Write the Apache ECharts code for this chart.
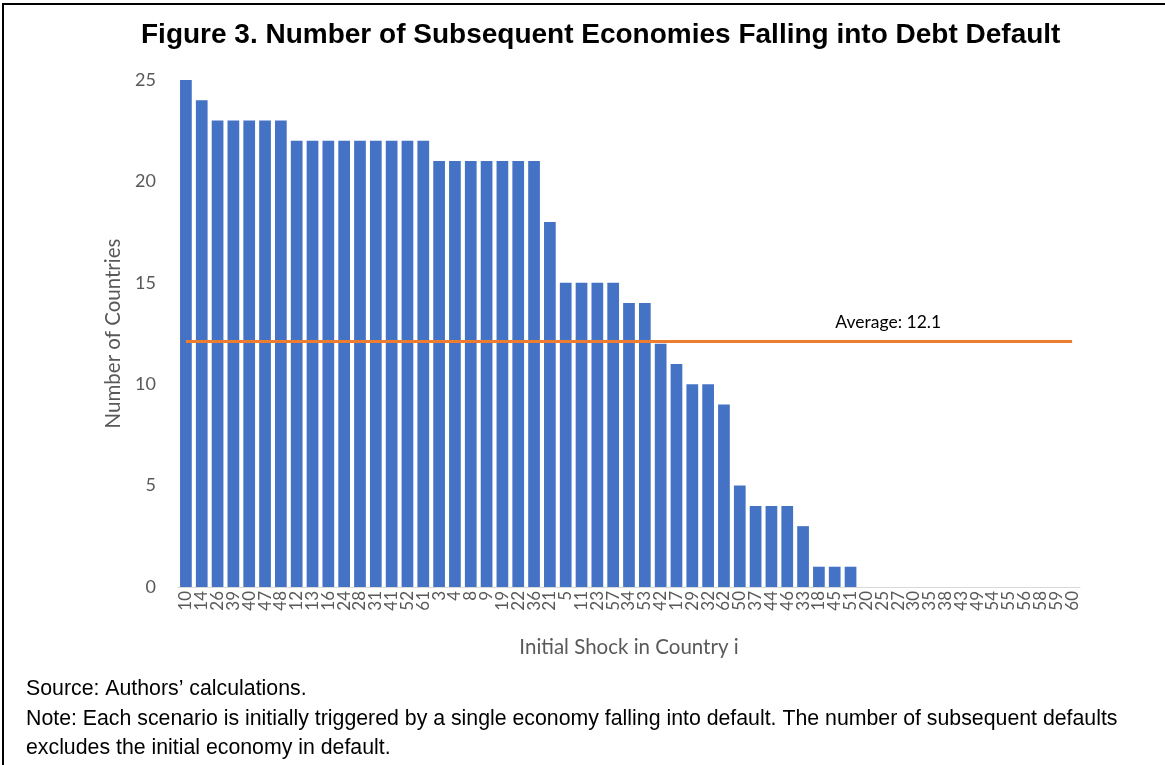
<!DOCTYPE html>
<html>
<head>
<meta charset="utf-8">
<script src="https://cdn.jsdelivr.net/npm/echarts@6/dist/echarts.min.js"></script>
<style>
  html, body { margin: 0; padding: 0; background: #fff; }
  #frame { position: absolute; left: 2px; top: 3px; width: 1165px; height: 770px; border-left: 2px solid #000; border-top: 2px solid #000; }
  #chart { position: absolute; left: 0; top: 0; width: 1165px; height: 765px; }
</style>
</head>
<body>
<div id="frame"></div>
<div id="chart"></div>
<script>
const categories = ['10','14','26','39','40','47','48','12','13','16','24','28','31','41','52','61','3','4','8','9','19','22','36','21','5','11','23','57','34','53','42','17','29','32','62','50','37','44','46','33','18','45','51','20','25','27','30','35','38','43','49','54','55','56','58','59','60'];
const defaults = [25,24,23,23,23,23,23,22,22,22,22,22,22,22,22,22,21,21,21,21,21,21,21,18,15,15,15,15,14,14,12,11,10,10,9,5,4,4,4,3,1,1,1,0,0,0,0,0,0,0,0,0,0,0,0,0,0];
const average = 12.1;
const averageLabelCategory = '25';
const yTicks = [0, 25, 5];

const chart = echarts.init(document.getElementById('chart'), null, { renderer: 'canvas' });
const axisFont = 'Lato, "Open Sans", sans-serif';
const noteFont = '21.3px "Liberation Sans", Arial, sans-serif';
chart.setOption({
  animation: false,
  backgroundColor: 'transparent',
  title: {
    text: 'Figure 3. Number of Subsequent Economies Falling into Debt Default',
    left: 136, top: 16,
    textStyle: { fontFamily: '"Liberation Sans", Arial, sans-serif', fontWeight: 'bold', fontSize: 28, color: '#000' }
  },
  grid: { left: 178, right: 85, top: 80, bottom: 178, containLabel: false },
  xAxis: {
    type: 'category',
    data: categories,
    name: 'Initial Shock in Country i',
    nameLocation: 'middle',
    nameGap: 50,
    nameTextStyle: { fontFamily: axisFont, fontSize: 20.5, color: '#595959' },
    axisLine: { show: true, lineStyle: { color: '#D9D9D9', width: 1 } },
    axisTick: { show: false },
    axisLabel: { rotate: 90, interval: 0, fontFamily: axisFont, fontSize: 17, color: '#595959', margin: 4 }
  },
  yAxis: {
    type: 'value',
    min: yTicks[0], max: yTicks[1], interval: yTicks[2],
    name: 'Number of Countries',
    nameLocation: 'middle',
    nameGap: 52,
    nameTextStyle: { fontFamily: axisFont, fontSize: 20.5, color: '#595959' },
    axisLine: { show: false },
    axisTick: { show: false },
    splitLine: { show: false },
    axisLabel: { fontFamily: axisFont, fontSize: 18, color: '#595959', margin: 22 }
  },
  series: [{
    type: 'bar',
    data: defaults,
    barCategoryGap: '26%',
    itemStyle: { color: '#4472C4' },
    markLine: {
      symbol: ['none', 'none'],
      silent: true,
      label: { show: false },
      lineStyle: { color: '#ED7D31', width: 3, type: 'solid' },
      data: [[{ coord: [categories[0], average] }, { coord: [categories[categories.length - 1], average] }]]
    },
    markPoint: {
      symbol: 'circle',
      symbolSize: 1,
      itemStyle: { color: 'rgba(0,0,0,0)' },
      label: {
        show: true, position: 'top', distance: 10, offset: [6, 0],
        formatter: 'Average: ' + average,
        fontFamily: axisFont, fontSize: 17.5, color: '#000'
      },
      data: [{ coord: [averageLabelCategory, average] }]
    }
  }],
  graphic: [
    { type: 'text', left: 26, top: 679, style: { text: 'Source: Authors\u2019 calculations.', font: noteFont, fill: '#000' } },
    { type: 'text', left: 26, top: 709, style: { text: 'Note: Each scenario is initially triggered by a single economy falling into default. The number of subsequent defaults', font: noteFont, fill: '#000' } },
    { type: 'text', left: 26, top: 738, style: { text: 'excludes the initial economy in default.', font: noteFont, fill: '#000' } }
  ]
});
</script>
</body>
</html>
